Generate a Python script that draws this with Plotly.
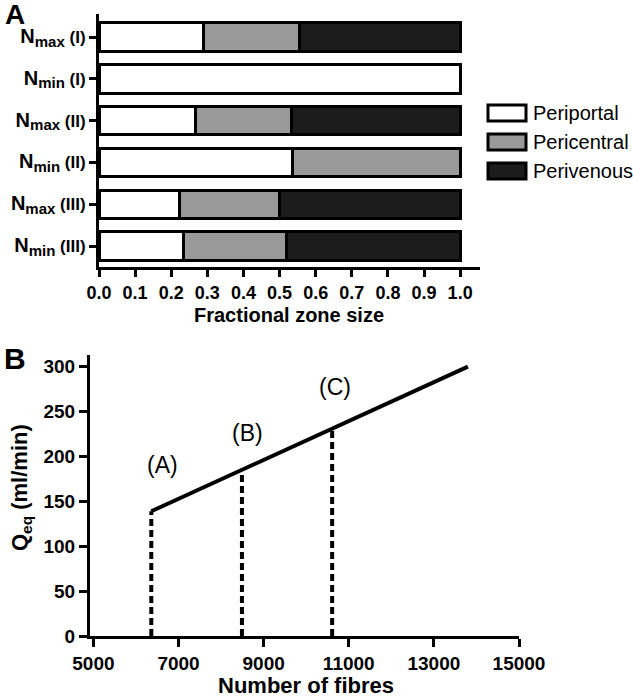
import plotly.graph_objects as go

W, H = 633, 700

# ---------- Panel A data ----------
categories = ["N<sub>max</sub> (I)", "N<sub>min</sub> (I)", "N<sub>max</sub> (II)",
              "N<sub>min</sub> (II)", "N<sub>max</sub> (III)", "N<sub>min</sub> (III)"]
periportal = [0.29, 1.0, 0.266, 0.536, 0.224, 0.233]
pericentral = [0.265, 0.0, 0.268, 0.464, 0.276, 0.287]
perivenous = [0.445, 0.0, 0.466, 0.0, 0.50, 0.48]
zone_names = ["Periportal", "Pericentral", "Perivenous"]
zone_colors = ["#ffffff", "#999999", "#1c1c1c"]
x_ticks_A = [round(i * 0.1, 1) for i in range(11)]

# ---------- Panel B data ----------
fibres_line = [6360, 13800]
qeq_line = [139, 300]
marker_x = [6360, 8490, 10610]
marker_q = [139, 185, 231]
marker_labels = ["(A)", "(B)", "(C)"]
label_x = [6620, 8620, 10680]
label_y = [190, 226, 277]
x_ticks_B = [5000, 7000, 9000, 11000, 13000, 15000]
y_ticks_B = [0, 50, 100, 150, 200, 250, 300]

FONT = "Liberation Sans, Arial, sans-serif"

def px(x):
    return x / W

def py(y):
    return 1 - y / H

def bold(size):
    return dict(family=FONT, size=size, color="black", weight="bold")

def styled_label(c):
    # larger "N", near-full-size subscript
    return (c.replace("N<sub>", "<span style='font-size:20px'>N</span><sub><span style='font-size:15px'>")
             .replace("</sub>", "</span></sub>"))

fig = go.Figure()

for name, vals, col in zip(zone_names, [periportal, pericentral, perivenous], zone_colors):
    fig.add_trace(go.Bar(
        y=categories, x=vals, orientation="h", name=name,
        marker=dict(color=col, line=dict(color="black", width=3)),
        width=0.68, xaxis="x", yaxis="y", showlegend=False,
    ))

fig.add_trace(go.Scatter(
    x=fibres_line, y=qeq_line, mode="lines",
    line=dict(color="black", width=4), xaxis="x2", yaxis="y2", showlegend=False,
))
for xv, qv in zip(marker_x, marker_q):
    fig.add_trace(go.Scatter(
        x=[xv, xv], y=[0, qv], mode="lines",
        line=dict(color="black", width=4, dash="7px,4px"),
        xaxis="x2", yaxis="y2", showlegend=False,
    ))

annotations = []
for t, xv, yv in zip(marker_labels, label_x, label_y):
    annotations.append(dict(text=t, x=xv, y=yv, xref="x2", yref="y2", showarrow=False,
                            font=dict(family=FONT, size=23, color="black")))

# panel letters
annotations.append(dict(text="A", x=px(3), y=py(-3), xref="paper", yref="paper",
                        xanchor="left", yanchor="top", showarrow=False,
                        font=bold(28)))
annotations.append(dict(text="B", x=px(2), y=py(340), xref="paper", yref="paper",
                        xanchor="left", yanchor="top", showarrow=False,
                        font=bold(30)))

# axis titles
annotations.append(dict(text="Fractional zone size", x=px(289), y=py(315),
                        xref="paper", yref="paper", xanchor="center", yanchor="middle",
                        showarrow=False, font=bold(20)))
annotations.append(dict(text="Number of fibres", x=px(306), y=py(685),
                        xref="paper", yref="paper", xanchor="center", yanchor="middle",
                        showarrow=False, font=bold(22)))
annotations.append(dict(text="Q<sub>eq</sub> (ml/min)", x=px(21), y=py(488),
                        xref="paper", yref="paper", xanchor="center", yanchor="middle",
                        textangle=-90, showarrow=False, font=bold(22)))

# custom legend
shapes = []
leg_y = [113, 142, 171]
for name, col, yc in zip(zone_names, zone_colors, leg_y):
    shapes.append(dict(type="rect", xref="paper", yref="paper",
                       x0=px(488), x1=px(526), y0=py(yc - 8), y1=py(yc + 8),
                       fillcolor=col, line=dict(color="black", width=3)))
    annotations.append(dict(text=name, x=px(531), y=py(yc), xref="paper", yref="paper",
                            xanchor="left", yanchor="middle", showarrow=False,
                            font=dict(family=FONT, size=20, color="black")))

axis_common = dict(showline=True, linecolor="black", linewidth=3, ticks="outside",
                   tickcolor="black", tickwidth=3, showgrid=False, zeroline=False,
                   mirror=False, automargin=False)

fig.update_layout(
    width=W, height=H, margin=dict(l=0, r=0, t=0, b=0),
    paper_bgcolor="white", plot_bgcolor="white",
    barmode="stack",
    font=dict(family=FONT, color="black"),
    xaxis=dict(**axis_common, domain=[px(99), px(480)], anchor="y",
               range=[0, 1.055], tickvals=x_ticks_A,
               ticktext=[f"{v:.1f}" for v in x_ticks_A], ticklen=7,
               tickfont=bold(18)),
    yaxis=dict(**axis_common, domain=[py(267), py(14)], anchor="x",
               range=[5.5, -0.55], ticklen=7,
               categoryorder="array", categoryarray=categories,
               tickvals=categories, ticktext=[styled_label(c) for c in categories],
               tickfont=bold(17)),
    xaxis2=dict(**axis_common, domain=[px(90), px(519)], anchor="y2",
                range=[4920, 15000], tickvals=x_ticks_B, ticklen=8,
                tickfont=bold(19), tickformat="d"),
    yaxis2=dict(**axis_common, domain=[py(636), py(355)], anchor="x2",
                range=[0, 313], tickvals=y_ticks_B, ticklen=8,
                tickfont=bold(19)),
    annotations=annotations, shapes=shapes,
)

fig.write_html("out.html", config={"displayModeBar": False},
               post_script="document.body.style.margin='0';document.body.style.overflow='hidden';")
